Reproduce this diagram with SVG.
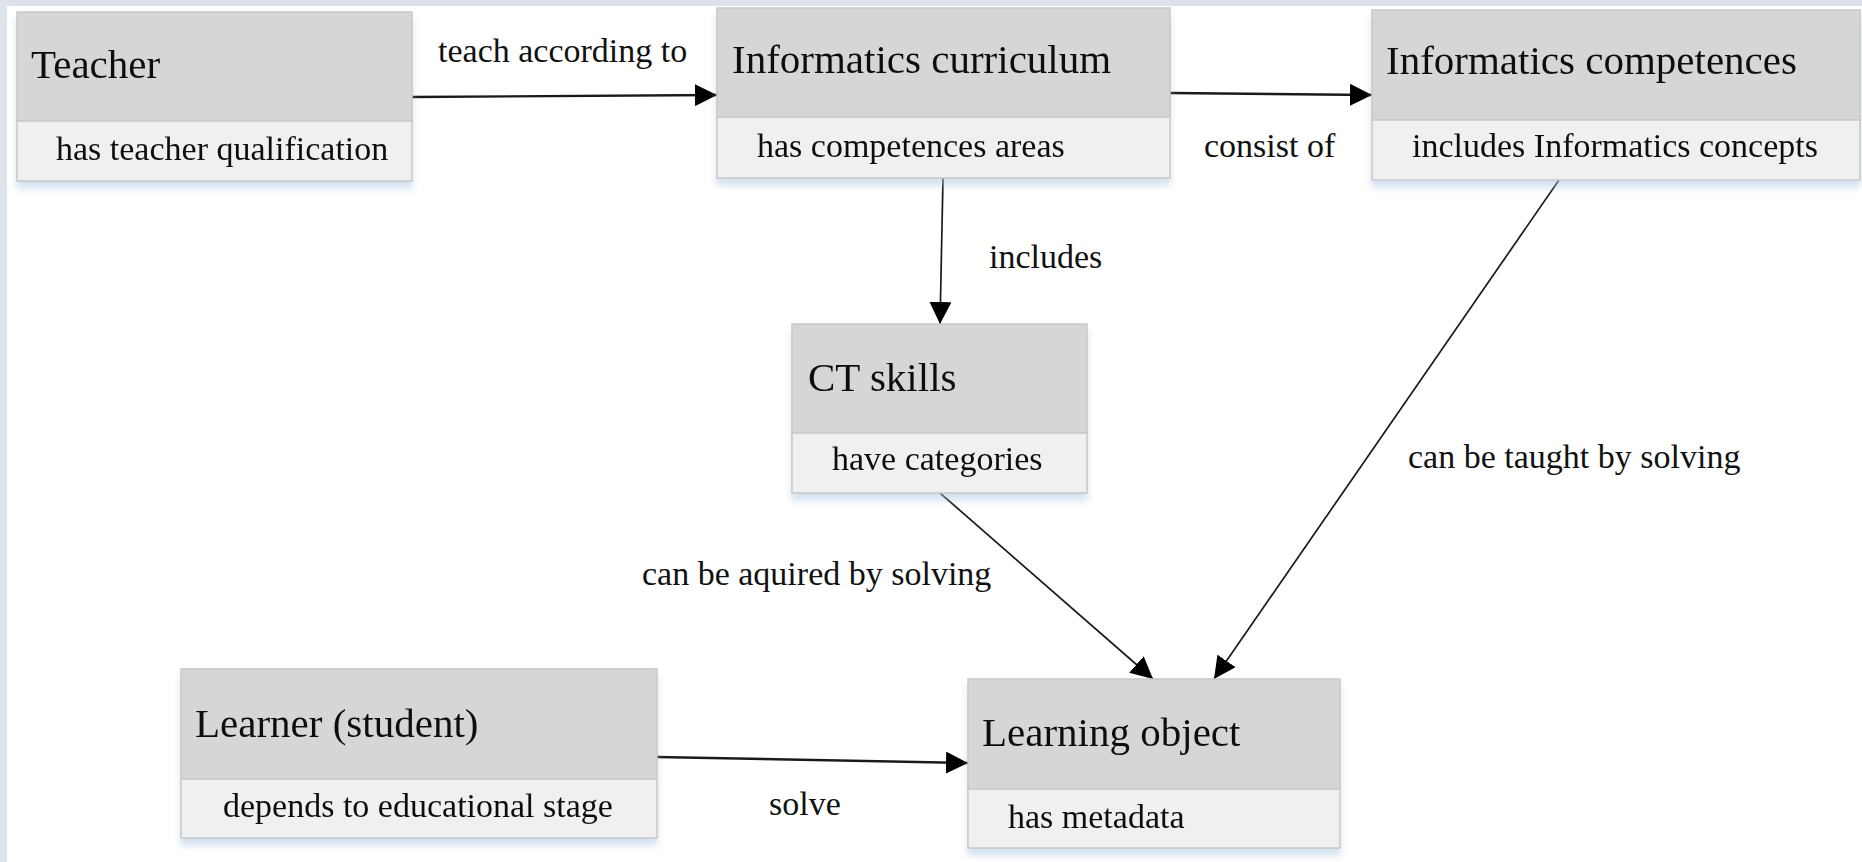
<svg xmlns="http://www.w3.org/2000/svg" width="1862" height="862" viewBox="0 0 1862 862">
  <style>
    .hd { fill: #d6d6d6; stroke: #c8c8c8; stroke-width: 1.5; }
    .sb { fill: #f0f0f0; stroke: #c8c8c8; stroke-width: 1.5; }
    .title { font-family: "Liberation Serif", "Times New Roman", serif; font-size: 41px; fill: #111; }
    .attr { font-family: "Liberation Serif", "Times New Roman", serif; font-size: 34px; fill: #111; }
    .lbl { font-family: "Liberation Serif", "Times New Roman", serif; font-size: 34px; fill: #111; }
    .edge { fill: none; stroke: #1a1a1a; stroke-width: 2.4; }
    .edge.thin { stroke-width: 1.7; }
  </style>
  <defs>
    <marker id="arrow" markerUnits="userSpaceOnUse" markerWidth="22" markerHeight="22" refX="22" refY="11" orient="auto">
      <path d="M0,0 L22,11 L0,22 z" fill="#000"/>
    </marker>
    <!-- soft bluish shadow under each box -->
    <filter id="glow" x="-5%" y="-10%" width="110%" height="130%">
      <feGaussianBlur in="SourceAlpha" stdDeviation="3.5"/>
      <feOffset dx="0" dy="7" result="b"/>
      <feFlood flood-color="#a9c6e2" flood-opacity="0.5"/>
      <feComposite in2="b" operator="in"/>
      <feMerge><feMergeNode/><feMergeNode in="SourceGraphic"/></feMerge>
    </filter>
  </defs>

  <!-- page backdrop -->
  <rect x="0" y="0" width="1862" height="862" fill="#dde3ea"/>
  <rect x="7" y="6" width="1855" height="856" fill="#ffffff"/>

  <!-- connectors -->
  <g id="connectors">
    <line class="edge" x1="412" y1="97" x2="717" y2="95" marker-end="url(#arrow)"/>
    <text class="lbl" x="438" y="62">teach according to</text>

    <line class="edge" x1="1170" y1="93" x2="1372" y2="95" marker-end="url(#arrow)"/>
    <text class="lbl" x="1204" y="157">consist of</text>

    <line class="edge thin" x1="943" y1="178" x2="940" y2="324" marker-end="url(#arrow)"/>
    <text class="lbl" x="989" y="268">includes</text>

    <line class="edge thin" x1="940" y1="493" x2="1153" y2="679" marker-end="url(#arrow)"/>
    <text class="lbl" x="642" y="585">can be aquired by solving</text>

    <line class="edge thin" x1="1559" y1="180" x2="1214" y2="679" marker-end="url(#arrow)"/>
    <text class="lbl" x="1408" y="468">can be taught by solving</text>

    <line class="edge" x1="657" y1="757" x2="968" y2="763" marker-end="url(#arrow)"/>
    <text class="lbl" x="769" y="815">solve</text>
  </g>

  <!-- nodes -->
  <g id="teacher" filter="url(#glow)">
    <rect class="hd" x="17" y="12" width="395" height="109"/>
    <rect class="sb" x="17" y="121" width="395" height="60"/>
    <text class="title" x="31" y="78">Teacher</text>
    <text class="attr" x="56" y="160">has teacher qualification</text>
  </g>

  <g id="curriculum" filter="url(#glow)">
    <rect class="hd" x="717" y="8" width="453" height="109"/>
    <rect class="sb" x="717" y="117" width="453" height="61"/>
    <text class="title" x="732" y="73">Informatics curriculum</text>
    <text class="attr" x="757" y="157">has competences areas</text>
  </g>

  <g id="competences" filter="url(#glow)">
    <rect class="hd" x="1372" y="10" width="488" height="110"/>
    <rect class="sb" x="1372" y="120" width="488" height="60"/>
    <text class="title" x="1386" y="74">Informatics competences</text>
    <text class="attr" x="1412" y="157">includes Informatics concepts</text>
  </g>

  <g id="ct-skills" filter="url(#glow)">
    <rect class="hd" x="792" y="324" width="295" height="109"/>
    <rect class="sb" x="792" y="433" width="295" height="60"/>
    <text class="title" x="808" y="391">CT skills</text>
    <text class="attr" x="832" y="470">have categories</text>
  </g>

  <g id="learner" filter="url(#glow)">
    <rect class="hd" x="181" y="669" width="476" height="110"/>
    <rect class="sb" x="181" y="779" width="476" height="59"/>
    <text class="title" x="195" y="737">Learner (student)</text>
    <text class="attr" x="223" y="817">depends to educational stage</text>
  </g>

  <g id="learning-object" filter="url(#glow)">
    <rect class="hd" x="968" y="679" width="372" height="110"/>
    <rect class="sb" x="968" y="789" width="372" height="59"/>
    <text class="title" x="982" y="746">Learning object</text>
    <text class="attr" x="1008" y="828">has metadata</text>
  </g>
</svg>
